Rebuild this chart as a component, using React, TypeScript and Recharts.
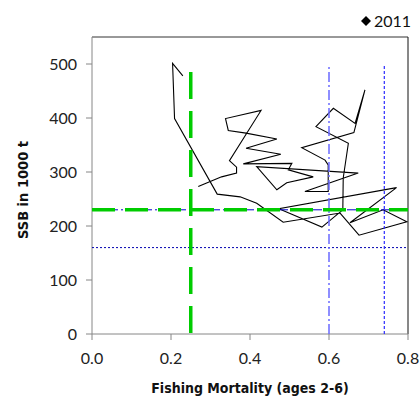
import React from 'react';
import { ScatterChart, Scatter, XAxis, YAxis, Label, ReferenceLine } from 'recharts';

// Fishing mortality (ages 2-6) trajectory, in year order
const fishingMortality = [
  0.230, 0.204, 0.209, 0.317, 0.375, 0.417, 0.484, 0.628, 0.676, 0.797,
  0.737, 0.653, 0.771, 0.473, 0.582, 0.635, 0.636, 0.649, 0.567, 0.611,
  0.666, 0.691, 0.663, 0.531, 0.590, 0.598, 0.598, 0.539, 0.674, 0.417,
  0.468, 0.493, 0.560, 0.497, 0.506, 0.383, 0.478, 0.390, 0.468, 0.390,
  0.345, 0.338, 0.428, 0.348, 0.366, 0.366, 0.328, 0.269,
];
// SSB in 1000 t
const ssb = [
  478, 501, 399, 259, 254, 242, 207, 224, 183, 208,
  230, 206, 271, 232, 198, 230, 289, 353, 384, 418,
  390, 452, 373, 345, 322, 313, 264, 264, 298, 310,
  267, 280, 291, 304, 316, 315, 333, 344, 361, 372,
  377, 399, 414, 321, 309, 298, 291, 273,
];

const xTicks = [0, 0.2, 0.4, 0.6, 0.8];
const yTicks = [0, 100, 200, 300, 400, 500];
const xMax = 0.8;
const yMax = 550;

// Reference points
const fLimLine = [{ f: 0.6, ssb: 0 }, { f: 0.6, ssb: 500 }];
const fPaLine = [{ f: 0.74, ssb: 0 }, { f: 0.74, ssb: 500 }];
const bLimLine = [{ f: 0, ssb: 160 }, { f: 0.8, ssb: 160 }];
const bPaLine = [{ f: 0, ssb: 230 }, { f: 0.8, ssb: 230 }];
const fMsyLine = [{ f: 0.25, ssb: 485 }, { f: 0.25, ssb: 0 }];
const bTrigLine = [{ f: 0, ssb: 230 }, { f: 0.8, ssb: 230 }];

const trajectory = fishingMortality.map((f, i) => ({ f, ssb: ssb[i] }));

const NoShape = () => <g />;
const FONT = 'Lato, "Open Sans", sans-serif';
const TITLE_FONT = '"DejaVu Sans Condensed", Lato, sans-serif';

export default function App() {
  return (
    <div style={{ position: 'absolute', left: 0, top: 0, width: 420, height: 399, background: '#fff', fontFamily: FONT }}>
      <ScatterChart width={420} height={399} margin={{ top: 37, right: 12, bottom: 0, left: 0 }}>
        <XAxis
          type="number"
          dataKey="f"
          domain={[0, xMax]}
          ticks={xTicks}
          tickFormatter={(v: number) => v.toFixed(1)}
          height={65}
          stroke="#868686"
          tickSize={6}
          tickMargin={13}
          tick={{ fill: '#222', fontSize: 16, fontFamily: FONT }}
          allowDataOverflow
        >
          <Label
            content={(props: any) => {
              const vb = props.viewBox || {};
              return (
                <text x={vb.x + vb.width / 2} y={393} textAnchor="middle" fontFamily={TITLE_FONT} fontWeight="bold" fontSize={14} fill="#111">
                  Fishing Mortality (ages 2-6)
                </text>
              );
            }}
          />
        </XAxis>
        <YAxis
          type="number"
          dataKey="ssb"
          domain={[0, yMax]}
          ticks={yTicks}
          width={92}
          stroke="#868686"
          tickSize={6}
          tickMargin={9}
          tick={{ fill: '#222', fontSize: 16, fontFamily: FONT }}
          allowDataOverflow
        >
          <Label
            content={() => (
              <text x={0} y={0} transform="translate(28,190) rotate(-90)" textAnchor="middle" fontFamily={TITLE_FONT} fontWeight="bold" fontSize={14.5} fill="#111">
                SSB in 1000 t
              </text>
            )}
          />
        </YAxis>

        <Scatter data={trajectory} line={{ stroke: '#000', strokeWidth: 1.1 }} lineType="joint" shape={NoShape} isAnimationActive={false} />
        <Scatter data={bLimLine} line={{ stroke: '#0000b0', strokeWidth: 1, strokeDasharray: '2 2' }} lineType="joint" shape={NoShape} isAnimationActive={false} />
        <Scatter data={bPaLine} line={{ stroke: '#0000cc', strokeWidth: 1, strokeDasharray: '9 3 2 3' }} lineType="joint" shape={NoShape} isAnimationActive={false} />
        <Scatter data={fLimLine} line={{ stroke: '#6a6aff', strokeWidth: 1.5, strokeDasharray: '10 3 2 3' }} lineType="joint" shape={NoShape} isAnimationActive={false} />
        <Scatter data={fPaLine} line={{ stroke: '#2a2aff', strokeWidth: 1.2, strokeDasharray: '3 2' }} lineType="joint" shape={NoShape} isAnimationActive={false} />
        <Scatter data={fMsyLine} line={{ stroke: '#00cc00', strokeWidth: 3.5, strokeDasharray: '27 12' }} lineType="joint" shape={NoShape} isAnimationActive={false} />
        <Scatter data={bTrigLine} line={{ stroke: '#00cc00', strokeWidth: 3.5, strokeDasharray: '23 10' }} lineType="joint" shape={NoShape} isAnimationActive={false} />
        <ReferenceLine y={yMax} stroke="#333" strokeWidth={1} />
        <ReferenceLine x={xMax} stroke="#111" strokeWidth={1} />
      </ScatterChart>
      <div style={{ position: 'absolute', left: 361, top: 11, fontSize: 16, fontFamily: FONT, color: '#111', display: 'flex', alignItems: 'center', lineHeight: '20px' }}>
        <svg width={10} height={10} style={{ marginRight: 3 }}>
          <polygon points="5,0 10,5 5,10 0,5" fill="#000" />
        </svg>
        <span>2011</span>
      </div>
    </div>
  );
}
